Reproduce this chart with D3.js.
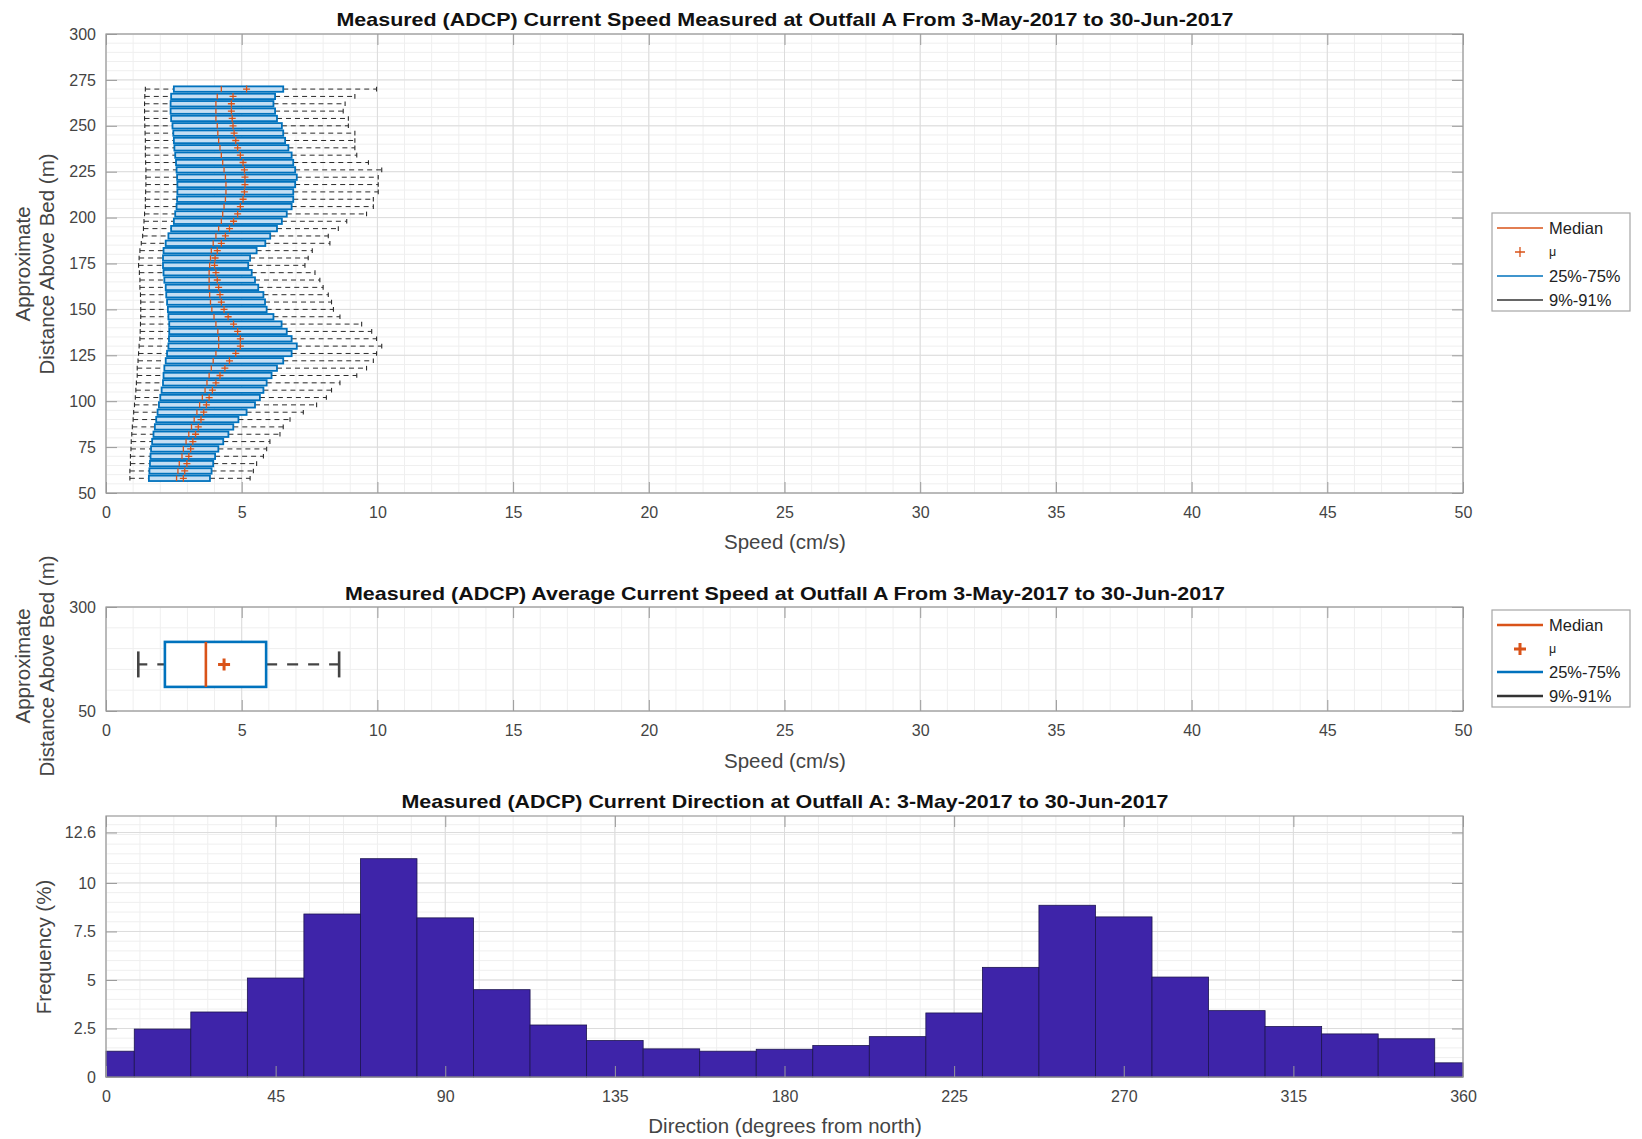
<!DOCTYPE html>
<html>
<head>
<meta charset="utf-8">
<script src="https://cdn.jsdelivr.net/npm/d3@7"></script>
<style>
  body { margin: 0; background: #fff; }
  text { font-family: "Liberation Sans", Arial, Helvetica, sans-serif; }
</style>
</head>
<body>
<svg id="fig" width="1642" height="1139"></svg>
<script>
// ---- Speed profile statistics per ADCP bin (cm/s), bins listed bottom to top ----
const binHeight = [58, 62, 66, 70, 74, 78, 82, 86, 90, 94, 98, 102, 106, 110, 114, 118, 122, 126, 130, 134,
  138, 142, 146, 150, 154, 158, 162, 166, 170, 174, 178, 182, 186, 190, 194, 198, 202, 206, 210, 214,
  218, 222, 226, 230, 234, 238, 242, 246, 250, 254, 258, 262, 266, 270];
const speedP9 = [0.88, 0.88, 0.90, 0.90, 0.92, 0.93, 0.95, 0.97, 1.00, 1.02, 1.05, 1.08, 1.10, 1.12, 1.15, 1.15, 1.18, 1.20, 1.22, 1.25,
  1.26, 1.27, 1.28, 1.28, 1.28, 1.27, 1.25, 1.25, 1.23, 1.20, 1.22, 1.25, 1.30, 1.35, 1.38, 1.40, 1.42, 1.45, 1.45, 1.46,
  1.47, 1.47, 1.47, 1.46, 1.45, 1.45, 1.45, 1.44, 1.43, 1.42, 1.42, 1.42, 1.43, 1.45];
const speedP25 = [1.58, 1.60, 1.62, 1.64, 1.66, 1.70, 1.75, 1.80, 1.85, 1.90, 1.95, 2.00, 2.05, 2.10, 2.12, 2.15, 2.20, 2.25, 2.30, 2.32,
  2.33, 2.33, 2.30, 2.28, 2.25, 2.22, 2.20, 2.15, 2.12, 2.10, 2.10, 2.12, 2.20, 2.30, 2.40, 2.50, 2.55, 2.60, 2.62, 2.63,
  2.63, 2.62, 2.60, 2.58, 2.55, 2.52, 2.50, 2.48, 2.45, 2.40, 2.38, 2.38, 2.40, 2.50];
const speedMedian = [2.60, 2.65, 2.70, 2.80, 2.85, 2.95, 3.05, 3.15, 3.25, 3.35, 3.45, 3.55, 3.65, 3.72, 3.80, 3.88, 3.95, 4.05, 4.15, 4.15,
  4.12, 4.05, 3.98, 3.90, 3.85, 3.82, 3.80, 3.80, 3.80, 3.82, 3.85, 3.88, 3.95, 4.05, 4.15, 4.25, 4.30, 4.35, 4.40, 4.42,
  4.42, 4.40, 4.35, 4.30, 4.25, 4.20, 4.15, 4.12, 4.10, 4.05, 4.05, 4.05, 4.10, 4.25];
const speedMean = [2.85, 2.90, 2.98, 3.05, 3.12, 3.20, 3.30, 3.40, 3.50, 3.60, 3.70, 3.80, 3.92, 4.05, 4.20, 4.38, 4.55, 4.78, 4.95, 4.95,
  4.85, 4.70, 4.50, 4.35, 4.25, 4.20, 4.15, 4.10, 4.05, 4.00, 4.02, 4.10, 4.25, 4.40, 4.55, 4.70, 4.85, 4.95, 5.05, 5.10,
  5.12, 5.12, 5.10, 5.05, 4.95, 4.85, 4.78, 4.72, 4.68, 4.65, 4.62, 4.62, 4.68, 5.18];
const speedP75 = [3.83, 3.89, 3.95, 4.02, 4.14, 4.32, 4.51, 4.69, 4.88, 5.18, 5.49, 5.67, 5.80, 5.92, 6.10, 6.30, 6.53, 6.84, 7.03, 6.84,
  6.66, 6.47, 6.17, 5.92, 5.86, 5.80, 5.61, 5.49, 5.37, 5.24, 5.31, 5.55, 5.87, 6.05, 6.30, 6.48, 6.66, 6.84, 6.90, 6.90,
  6.97, 7.03, 6.97, 6.90, 6.84, 6.72, 6.60, 6.53, 6.48, 6.30, 6.23, 6.17, 6.23, 6.53];
const speedP91 = [5.31, 5.43, 5.55, 5.80, 5.92, 6.04, 6.41, 6.53, 6.78, 7.27, 7.76, 8.12, 8.31, 8.62, 9.24, 9.60, 9.85, 9.97, 10.16, 9.97,
  9.79, 9.42, 8.62, 8.38, 8.31, 8.19, 8.00, 7.88, 7.70, 7.33, 7.45, 7.60, 8.25, 8.19, 8.56, 8.87, 9.60, 9.85, 9.85, 10.03,
  10.03, 10.03, 10.16, 9.67, 9.24, 9.17, 9.17, 9.17, 8.93, 8.93, 8.74, 8.81, 9.17, 9.97];

// ---- Depth-averaged speed statistics (cm/s) ----
const avgStat = ["p9", "p25", "median", "mean", "p75", "p91"];
const avgSpeed = [1.19, 2.17, 3.68, 4.35, 5.90, 8.59];

// ---- Direction histogram (degrees from north, % of records) ----
const dirEdges = [0, 7.5, 22.5, 37.5, 52.5, 67.5, 82.5, 97.5, 112.5, 127.5, 142.5, 157.5, 172.5, 187.5,
  202.5, 217.5, 232.5, 247.5, 262.5, 277.5, 292.5, 307.5, 322.5, 337.5, 352.5, 360];
const dirFreq = [1.33, 2.47, 3.35, 5.10, 8.40, 11.25, 8.20, 4.50, 2.68, 1.88, 1.45, 1.33, 1.43, 1.62, 2.08,
  3.30, 5.65, 8.85, 8.25, 5.15, 3.42, 2.60, 2.22, 1.97, 0.73];

// ---- Tick labels ----
const speedTicks = [0, 5, 10, 15, 20, 25, 30, 35, 40, 45, 50];
const heightTicks = [50, 75, 100, 125, 150, 175, 200, 225, 250, 275, 300];
const avgHeightTicks = [50, 300];
const dirTicks = [0, 45, 90, 135, 180, 225, 270, 315, 360];
const freqTicks = [0, 2.5, 5, 7.5, 10, 12.6];
const legendLabels = ["Median", "\u03bc", "25%-75%", "9%-91%"];

// ---- styling ----
const COL = {
  orange: "#D95319", blue: "#0072BD", boxFill: "#c4def3", whisker: "#2b2b2b",
  axis: "#9a9a9a", text: "#444", title: "#111", gridMaj: "#dcdcdc", gridMin: "#efefef",
  bar: "#3E24A9", barEdge: "#1c1450"
};
const FONT_TICK = 16, FONT_LABEL = 20.5, FONT_TITLE = 19, FONT_LEG = 16.5;
const TICK_LEN = 11;

const svg = d3.select("#fig");
svg.append("rect").attr("width", 1642).attr("height", 1139).attr("fill", "#fff");

// Grid behind the data; returns a function that adds ticks, labels and the frame on top
function makeAxes(p, x, y, xt, yt, xMinor, yMinor) {
  const W = p.r - p.l, H = p.b - p.t;
  const grid = svg.append("g");
  grid.selectAll("line.mnx").data(xMinor).join("line")
    .attr("x1", d => x(d)).attr("x2", d => x(d)).attr("y1", p.t).attr("y2", p.b)
    .attr("stroke", COL.gridMin).attr("stroke-width", 1);
  grid.selectAll("line.mny").data(yMinor).join("line")
    .attr("y1", d => y(d)).attr("y2", d => y(d)).attr("x1", p.l).attr("x2", p.r)
    .attr("stroke", COL.gridMin).attr("stroke-width", 1);
  grid.selectAll("line.mjx").data(xt).join("line")
    .attr("x1", d => x(d)).attr("x2", d => x(d)).attr("y1", p.t).attr("y2", p.b)
    .attr("stroke", COL.gridMaj).attr("stroke-width", 1);
  grid.selectAll("line.mjy").data(yt).join("line")
    .attr("y1", d => y(d)).attr("y2", d => y(d)).attr("x1", p.l).attr("x2", p.r)
    .attr("stroke", COL.gridMaj).attr("stroke-width", 1);
  return () => {
    const a = svg.append("g");
    const style = s => {
      s.select(".domain").remove();
      s.selectAll(".tick line").attr("stroke", COL.axis).attr("stroke-width", 1);
      s.selectAll(".tick text").attr("fill", COL.text).style("font-size", FONT_TICK + "px");
    };
    const fmt = d3.format("~g");
    a.append("g").attr("transform", `translate(0,${p.b})`)
      .call(d3.axisBottom(x).tickValues(xt).tickSizeInner(-TICK_LEN).tickSizeOuter(0).tickPadding(14).tickFormat(fmt))
      .call(style);
    a.append("g").attr("transform", `translate(0,${p.t})`)
      .call(d3.axisTop(x).tickValues(xt).tickSizeInner(-TICK_LEN).tickSizeOuter(0).tickFormat("")).call(style);
    a.append("g").attr("transform", `translate(${p.l},0)`)
      .call(d3.axisLeft(y).tickValues(yt).tickSizeInner(-TICK_LEN).tickSizeOuter(0).tickPadding(10).tickFormat(fmt))
      .call(style);
    a.append("g").attr("transform", `translate(${p.r},0)`)
      .call(d3.axisRight(y).tickValues(yt).tickSizeInner(-TICK_LEN).tickSizeOuter(0).tickFormat("")).call(style);
    a.append("rect").attr("x", p.l).attr("y", p.t).attr("width", W).attr("height", H)
      .attr("fill", "none").attr("stroke", COL.axis).attr("stroke-width", 1.2);
  };
}

function title(txt, cx, cy, len) {
  svg.append("text").attr("x", cx).attr("y", cy).attr("dy", "0.35em").attr("text-anchor", "middle")
    .attr("textLength", len).attr("lengthAdjust", "spacingAndGlyphs")
    .attr("fill", COL.title).style("font-size", FONT_TITLE + "px").style("font-weight", "bold").text(txt);
}
function xlabel(txt, cx, cy) {
  svg.append("text").attr("x", cx).attr("y", cy).attr("dy", "0.35em").attr("text-anchor", "middle")
    .attr("fill", COL.text).style("font-size", FONT_LABEL + "px").text(txt);
}
function ylabel(lines, xs, cy) {
  lines.forEach((t, i) => {
    svg.append("text").attr("transform", `translate(${xs[i]},${cy}) rotate(-90)`)
      .attr("dy", "0.35em").attr("text-anchor", "middle")
      .attr("fill", COL.text).style("font-size", FONT_LABEL + "px").text(t);
  });
}
function plusPath(cx, cy, s) {
  return `M${cx - s},${cy}H${cx + s}M${cx},${cy - s}V${cy + s}`;
}
function legend(box, rows, thick) {
  const g = svg.append("g");
  g.append("rect").attr("x", box.x).attr("y", box.y).attr("width", box.w).attr("height", box.h)
    .attr("fill", "#fff").attr("stroke", "#a6a6a6").attr("stroke-width", 1.2);
  const colors = [COL.orange, COL.orange, COL.blue, "#333"];
  legendLabels.forEach((lab, i) => {
    const yy = rows[i];
    if (i === 1) {
      g.append("path").attr("d", plusPath(box.x + 28, yy, thick ? 6 : 5))
        .attr("stroke", COL.orange).attr("stroke-width", thick ? 3 : 1.3).attr("fill", "none");
    } else {
      g.append("line").attr("x1", box.x + 5).attr("x2", box.x + 51).attr("y1", yy).attr("y2", yy)
        .attr("stroke", colors[i]).attr("stroke-width", thick ? 2.4 : 1.3);
    }
    g.append("text").attr("x", box.x + 57).attr("y", yy).attr("dy", "0.35em")
      .attr("fill", "#222").style("font-size", (i === 1 ? FONT_LEG - 4 : FONT_LEG) + "px").text(lab);
  });
}

// =================== Panel 1: speed profile box plots ===================
const P1 = { l: 106, r: 1463, t: 34, b: 493 };
const x1 = d3.scaleLinear().domain([0, 50]).range([P1.l, P1.r]);
const y1 = d3.scaleLinear().domain([50, 300]).range([P1.b, P1.t]);
const finish1 = makeAxes(P1, x1, y1, speedTicks, heightTicks, d3.range(0, 51, 1), d3.range(50, 301, 5));

const rows = binHeight.map((h, i) => ({
  h, p9: speedP9[i], p25: speedP25[i], med: speedMedian[i], mean: speedMean[i], p75: speedP75[i], p91: speedP91[i]
}));
const rowGap = Math.abs(y1(binHeight[1]) - y1(binHeight[0]));
const half = rowGap * 0.37;
const capHalf = half * 0.85;
const gRows = svg.append("g").selectAll("g").data(rows).join("g");
// whiskers and end caps
gRows.append("line").attr("x1", d => x1(d.p9)).attr("x2", d => x1(d.p25))
  .attr("y1", d => y1(d.h)).attr("y2", d => y1(d.h))
  .attr("stroke", COL.whisker).attr("stroke-width", 1).attr("stroke-dasharray", "5,4");
gRows.append("line").attr("x1", d => x1(d.p75)).attr("x2", d => x1(d.p91))
  .attr("y1", d => y1(d.h)).attr("y2", d => y1(d.h))
  .attr("stroke", COL.whisker).attr("stroke-width", 1).attr("stroke-dasharray", "5,4");
gRows.append("line").attr("x1", d => x1(d.p9)).attr("x2", d => x1(d.p9))
  .attr("y1", d => y1(d.h) - capHalf).attr("y2", d => y1(d.h) + capHalf)
  .attr("stroke", COL.whisker).attr("stroke-width", 1.1);
gRows.append("line").attr("x1", d => x1(d.p91)).attr("x2", d => x1(d.p91))
  .attr("y1", d => y1(d.h) - capHalf).attr("y2", d => y1(d.h) + capHalf)
  .attr("stroke", COL.whisker).attr("stroke-width", 1.1);
// interquartile boxes
gRows.append("rect").attr("x", d => x1(d.p25)).attr("width", d => x1(d.p75) - x1(d.p25))
  .attr("y", d => y1(d.h) - half).attr("height", 2 * half)
  .attr("fill", COL.boxFill).attr("stroke", COL.blue).attr("stroke-width", 1.8);
// medians
gRows.append("line").attr("x1", d => x1(d.med)).attr("x2", d => x1(d.med))
  .attr("y1", d => y1(d.h) - half).attr("y2", d => y1(d.h) + half)
  .attr("stroke", COL.orange).attr("stroke-width", 1.3);
// means
gRows.append("path").attr("d", d => plusPath(x1(d.mean), y1(d.h), 3.5))
  .attr("stroke", COL.orange).attr("stroke-width", 1.3).attr("fill", "none");
finish1();

title("Measured (ADCP) Current Speed Measured at Outfall A From 3-May-2017 to 30-Jun-2017", 785, 19, 897);
xlabel("Speed (cm/s)", 785, 542);
ylabel(["Approximate", "Distance Above Bed (m)"], [23, 47], 264);
legend({ x: 1492, y: 213, w: 138, h: 98 }, [228, 252, 276, 300], false);

// =================== Panel 2: depth-averaged speed box ===================
const P2 = { l: 106, r: 1463, t: 607, b: 711 };
const x2 = d3.scaleLinear().domain([0, 50]).range([P2.l, P2.r]);
const y2 = d3.scaleLinear().domain([50, 300]).range([P2.b, P2.t]);
const finish2 = makeAxes(P2, x2, y2, speedTicks, avgHeightTicks, d3.range(0, 51, 1), d3.range(50, 301, 50));
const S = Object.fromEntries(avgStat.map((k, i) => [k, avgSpeed[i]]));
const yc = y2(162), bh = 22.5, ch = 13;
const g2 = svg.append("g");
g2.append("line").attr("x1", x2(S.p9)).attr("x2", x2(S.p25)).attr("y1", yc).attr("y2", yc)
  .attr("stroke", "#444").attr("stroke-width", 2.2).attr("stroke-dasharray", "9,10");
g2.append("line").attr("x1", x2(S.p75)).attr("x2", x2(S.p91)).attr("y1", yc).attr("y2", yc)
  .attr("stroke", "#444").attr("stroke-width", 2.2).attr("stroke-dasharray", "11,10");
[S.p9, S.p91].forEach(v => g2.append("line").attr("x1", x2(v)).attr("x2", x2(v))
  .attr("y1", yc - ch).attr("y2", yc + ch).attr("stroke", "#444").attr("stroke-width", 2.6));
g2.append("rect").attr("x", x2(S.p25)).attr("width", x2(S.p75) - x2(S.p25))
  .attr("y", yc - bh).attr("height", 2 * bh)
  .attr("fill", "#fff").attr("stroke", COL.blue).attr("stroke-width", 2.6);
g2.append("line").attr("x1", x2(S.median)).attr("x2", x2(S.median)).attr("y1", yc - bh).attr("y2", yc + bh)
  .attr("stroke", COL.orange).attr("stroke-width", 2.6);
g2.append("path").attr("d", plusPath(x2(S.mean), yc, 6))
  .attr("stroke", COL.orange).attr("stroke-width", 3).attr("fill", "none");
finish2();

title("Measured (ADCP) Average Current Speed at Outfall A From 3-May-2017 to 30-Jun-2017", 785, 593, 880);
xlabel("Speed (cm/s)", 785, 761);
ylabel(["Approximate", "Distance Above Bed (m)"], [23, 47], 666);
legend({ x: 1492, y: 610, w: 138, h: 97 }, [625, 649, 672, 696], true);

// =================== Panel 3: direction histogram ===================
const P3 = { l: 106, r: 1463, t: 816, b: 1077 };
const x3 = d3.scaleLinear().domain([0, 360]).range([P3.l, P3.r]);
const y3 = d3.scaleLinear().domain([0, 13.45]).range([P3.b, P3.t]);
const finish3 = makeAxes(P3, x3, y3, dirTicks, freqTicks, d3.range(0, 361, 9), d3.range(0, 13.45, 0.5));
svg.append("g").selectAll("rect").data(dirFreq).join("rect")
  .attr("x", (d, i) => x3(dirEdges[i])).attr("width", (d, i) => x3(dirEdges[i + 1]) - x3(dirEdges[i]))
  .attr("y", d => y3(d)).attr("height", d => y3(0) - y3(d))
  .attr("fill", COL.bar).attr("stroke", COL.barEdge).attr("stroke-width", 0.8);
finish3();

title("Measured (ADCP) Current Direction at Outfall A: 3-May-2017 to 30-Jun-2017", 785, 801, 767);
xlabel("Direction (degrees from north)", 785, 1126);
ylabel(["Frequency (%)"], [44], 947);
</script>
</body>
</html>
